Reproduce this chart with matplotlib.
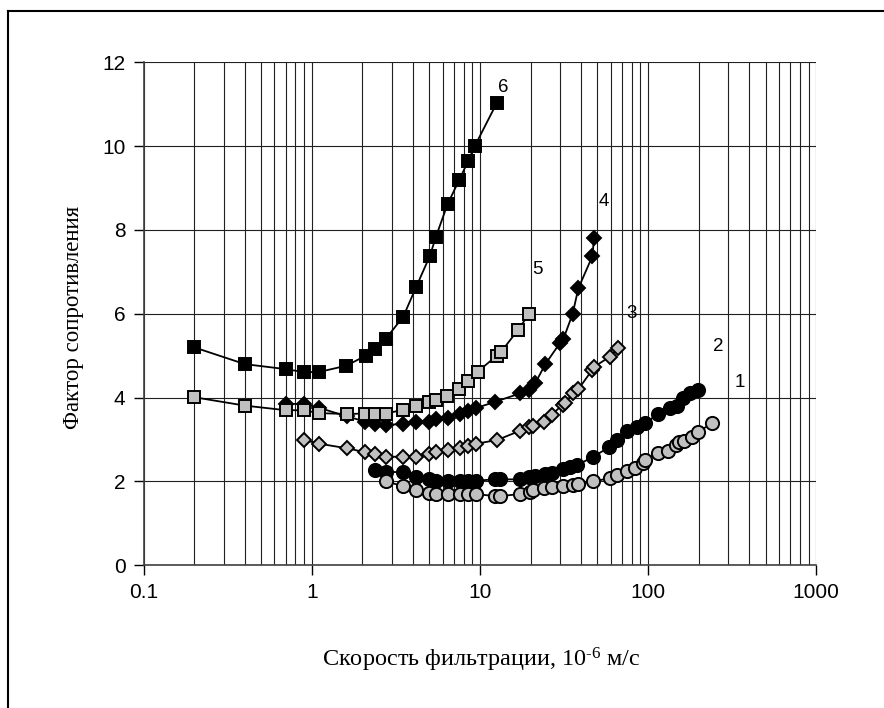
import matplotlib
matplotlib.use("Agg")
import matplotlib.pyplot as plt
from matplotlib.ticker import FixedLocator, NullLocator, FixedFormatter
from matplotlib.lines import Line2D

plt.rcParams['mathtext.fontset'] = 'custom'
plt.rcParams['mathtext.rm'] = 'Liberation Serif'
plt.rcParams['mathtext.it'] = 'Liberation Serif'

# Filtration velocity (10^-6 m/s) and resistance factor for each curve
s1_x = [2.75, 3.51, 4.17, 5.0, 5.46, 6.49, 7.62, 8.53, 9.48, 12.3, 13.2, 17.3, 19.9, 20.8,
        24.0, 26.7, 31.2, 35.6, 38.5, 47.2, 59.4, 65.6, 74.6, 83.6, 93.7, 95.9, 115, 132,
        147, 153, 163, 182, 199, 241]
s1_y = [2.00, 1.89, 1.80, 1.73, 1.70, 1.70, 1.70, 1.70, 1.70, 1.65, 1.65, 1.70, 1.76, 1.80,
        1.84, 1.86, 1.89, 1.92, 1.94, 2.00, 2.08, 2.16, 2.26, 2.31, 2.43, 2.51, 2.69, 2.73,
        2.87, 2.93, 2.97, 3.07, 3.19, 3.39]

s2_x = [2.38, 2.75, 3.51, 4.17, 5.0, 5.46, 6.49, 7.62, 8.53, 9.48, 12.3, 13.2, 17.3, 19.7,
        21.3, 24.4, 26.7, 31.0, 34.3, 37.9, 47.2, 58.8, 65.0, 74.6, 85.5, 95.9, 115, 135,
        148, 162, 177, 199]
s2_y = [2.27, 2.23, 2.22, 2.10, 2.05, 2.02, 2.02, 2.02, 2.02, 2.02, 2.05, 2.05, 2.05, 2.10,
        2.13, 2.18, 2.21, 2.29, 2.34, 2.39, 2.59, 2.82, 2.99, 3.21, 3.31, 3.39, 3.61, 3.75,
        3.79, 3.99, 4.10, 4.18]

s3_x = [0.9, 1.11, 1.63, 2.07, 2.38, 2.75, 3.51, 4.17, 5.0, 5.46, 6.49, 7.62, 8.53, 9.48,
        12.7, 17.3, 19.7, 20.8, 24.0, 26.7, 31.0, 32.1, 35.6, 38.5, 46.5, 48.0, 59.4, 66.5]
s3_y = [2.99, 2.90, 2.79, 2.70, 2.66, 2.59, 2.59, 2.59, 2.66, 2.71, 2.75, 2.79, 2.85, 2.90,
        2.99, 3.21, 3.31, 3.32, 3.43, 3.59, 3.83, 3.87, 4.10, 4.20, 4.66, 4.74, 4.98, 5.18]

s4_x = [0.7, 0.9, 1.1, 1.63, 2.07, 2.38, 2.75, 3.51, 4.17, 5.0, 5.46, 6.49, 7.62, 8.53,
        9.48, 12.3, 17.3, 19.7, 21.3, 24.5, 29.9, 31.3, 35.6, 38.5, 46.6, 47.7]
s4_y = [3.85, 3.85, 3.76, 3.55, 3.43, 3.37, 3.35, 3.37, 3.43, 3.43, 3.48, 3.51, 3.61, 3.68,
        3.75, 3.90, 4.10, 4.18, 4.34, 4.80, 5.30, 5.39, 6.00, 6.61, 7.37, 7.80]

s5_x = [0.2, 0.4, 0.7, 0.9, 1.1, 1.63, 2.07, 2.38, 2.75, 3.51, 4.17, 5.0, 5.46, 6.4, 7.5,
        8.5, 9.7, 12.6, 13.4, 16.9, 19.6]
s5_y = [4.01, 3.81, 3.70, 3.70, 3.63, 3.61, 3.62, 3.62, 3.62, 3.71, 3.81, 3.90, 3.95, 4.05,
        4.20, 4.40, 4.62, 5.00, 5.10, 5.62, 6.00]

s6_x = [0.2, 0.4, 0.7, 0.9, 1.1, 1.6, 2.1, 2.38, 2.75, 3.5, 4.17, 5.05, 5.48, 6.43, 7.55,
        8.53, 9.35, 12.6]
s6_y = [5.20, 4.80, 4.68, 4.61, 4.61, 4.76, 5.00, 5.16, 5.40, 5.93, 6.63, 7.39, 7.84, 8.62,
        9.20, 9.65, 10.01, 11.03]

curve_names = ["1", "2", "3", "4", "5", "6"]
name_x = [351, 260, 80, 54.7, 22.1, 13.7]
name_y = [4.37, 5.23, 6.0, 8.69, 7.05, 11.39]

x_ticks = [0.1, 1, 10, 100, 1000]
x_tick_labels = ["0.1", "1", "10", "100", "1000"]
y_ticks = [0, 2, 4, 6, 8, 10, 12]

W, H = 884, 708
fig = plt.figure(figsize=(W / 100, H / 100), dpi=100)
ax = fig.add_axes([143.5 / W, 1 - 565.3 / H, (816.3 - 143.5) / W, (565.3 - 62.3) / H])

ax.set_xscale("log")
ax.set_xlim(0.1, 1000)
ax.set_ylim(0, 12)

gray = "#c0c0c0"
line_kw = dict(color="black", lw=1.3, markeredgecolor="black", markeredgewidth=1.4)

ax.plot(s2_x, s2_y, marker="o", ms=9.5, markerfacecolor="black", zorder=3, **line_kw)
ax.plot(s1_x, s1_y, marker="o", ms=9.5, markerfacecolor=gray, zorder=4, **line_kw)
ax.plot(s3_x, s3_y, marker="D", ms=7.5, markerfacecolor=gray, zorder=3, **line_kw)
ax.plot(s4_x, s4_y, marker="D", ms=7.5, markerfacecolor="black", zorder=3, **line_kw)
ax.plot(s5_x, s5_y, marker="s", ms=9, markerfacecolor=gray, zorder=4, **line_kw)
ax.plot(s6_x, s6_y, marker="s", ms=9, markerfacecolor="black", zorder=3, **line_kw)

for name, tx, ty in zip(curve_names, name_x, name_y):
    ax.text(tx, ty, name, fontsize=13.5, family="Liberation Sans",
            ha="center", va="center", zorder=5)

# Ticks and grid
ax.xaxis.set_major_locator(FixedLocator(x_ticks))
ax.xaxis.set_major_formatter(FixedFormatter(x_tick_labels))
ax.xaxis.set_minor_locator(NullLocator())
ax.set_yticks(y_ticks)
ax.set_yticklabels([str(v) for v in y_ticks])
ax.tick_params(axis="both", which="major", direction="out", length=7, width=1,
               labelsize=15, colors="black", pad=6)
for lbl in ax.get_xticklabels() + ax.get_yticklabels():
    lbl.set_family("Liberation Sans")

grid_kw = dict(color="#202020", lw=0.8, zorder=1)
for dec in [0.1, 1, 10, 100]:
    for m in range(1, 10):
        ax.axvline(dec * m, **grid_kw)
ax.axvline(1000, **grid_kw)
for v in y_ticks:
    ax.axhline(v, **grid_kw)

for side in ["top", "right"]:
    ax.spines[side].set_visible(False)
for side in ["left", "bottom"]:
    ax.spines[side].set_color("#404040")
    ax.spines[side].set_linewidth(1.2)

# Axis titles
fig.text(481 / W, 1 - 660 / H, r"Скорость фильтрации, 10$^{\text{-6}}$ м/с",
         fontsize=17.5, family="Liberation Serif", ha="center", va="center")
fig.text(73 / W, 1 - 317 / H, "Фактор сопротивления", rotation=90,
         fontsize=16.5, family="Liberation Serif", ha="center", va="center")

# Frame around the chart area
fig.add_artist(Line2D([8 / W, 8 / W], [0, 1 - 11 / H], color="black", lw=1.5,
                      transform=fig.transFigure))
fig.add_artist(Line2D([8 / W, 1], [1 - 11 / H, 1 - 11 / H], color="black", lw=1.5,
                      transform=fig.transFigure))

fig.savefig("out.png", dpi=100)
